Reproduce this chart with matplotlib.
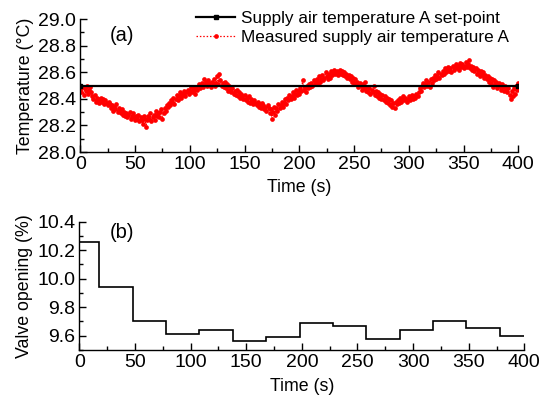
import matplotlib
matplotlib.use("Agg")
import matplotlib.pyplot as plt
import numpy as np
from matplotlib.ticker import MultipleLocator

plt.rcParams['font.family'] = ['Liberation Sans', 'DejaVu Sans']

# ---- data ----
setpoint_value = 28.5
time_setpoint = [0, 400]

measured_temp = [
    28.47, 28.45, 28.49, 28.43, 28.48, 28.46, 28.50, 28.44, 28.47, 28.49,
    28.45, 28.42, 28.40, 28.43, 28.38, 28.41, 28.39, 28.37, 28.40, 28.41,
    28.38, 28.40, 28.36, 28.39, 28.37, 28.35, 28.38, 28.36, 28.33, 28.35,
    28.31, 28.34, 28.32, 28.36, 28.30, 28.33, 28.31, 28.29, 28.32, 28.28,
    28.30, 28.27, 28.29, 28.26, 28.28, 28.30, 28.25, 28.27, 28.29, 28.26,
    28.24, 28.27, 28.25, 28.28, 28.23, 28.26, 28.24, 28.21, 28.27, 28.25,
    28.19, 28.24, 28.27, 28.25, 28.29, 28.23, 28.26, 28.28, 28.24, 28.31,
    28.27, 28.29, 28.26, 28.30, 28.32, 28.25, 28.29, 28.33, 28.31, 28.35,
    28.34, 28.37, 28.35, 28.39, 28.38, 28.41, 28.36, 28.40, 28.43, 28.39,
    28.42, 28.45, 28.41, 28.44, 28.43, 28.46, 28.42, 28.45, 28.47, 28.44,
    28.46, 28.49, 28.45, 28.48, 28.47, 28.44, 28.49, 28.47, 28.51, 28.48,
    28.50, 28.52, 28.49, 28.55, 28.51, 28.53, 28.50, 28.54, 28.52, 28.49,
    28.53, 28.51, 28.55, 28.50, 28.52, 28.57, 28.51, 28.59, 28.54, 28.50,
    28.52, 28.49, 28.53, 28.48, 28.51, 28.46, 28.50, 28.47, 28.45, 28.48,
    28.44, 28.46, 28.43, 28.47, 28.42, 28.45, 28.41, 28.44, 28.42, 28.40,
    28.43, 28.39, 28.41, 28.38, 28.42, 28.37, 28.40, 28.38, 28.36, 28.39,
    28.37, 28.35, 28.38, 28.34, 28.36, 28.33, 28.37, 28.35, 28.32, 28.34,
    28.31, 28.35, 28.33, 28.29, 28.32, 28.25, 28.30, 28.34, 28.28, 28.33,
    28.31, 28.36, 28.33, 28.35, 28.38, 28.34, 28.37, 28.40, 28.36, 28.41,
    28.39, 28.43, 28.40, 28.42, 28.45, 28.41, 28.44, 28.47, 28.43, 28.46,
    28.44, 28.48, 28.46, 28.54, 28.47, 28.49, 28.45, 28.50, 28.48, 28.51,
    28.49, 28.52, 28.50, 28.54, 28.51, 28.53, 28.55, 28.52, 28.57, 28.53,
    28.55, 28.58, 28.54, 28.56, 28.60, 28.57, 28.55, 28.59, 28.56, 28.61,
    28.58, 28.60, 28.62, 28.59, 28.61, 28.58, 28.60, 28.62, 28.59, 28.61,
    28.58, 28.60, 28.57, 28.59, 28.56, 28.58, 28.55, 28.57, 28.53, 28.56,
    28.52, 28.55, 28.51, 28.53, 28.49, 28.52, 28.50, 28.47, 28.51, 28.48,
    28.53, 28.46, 28.49, 28.45, 28.48, 28.44, 28.47, 28.45, 28.50, 28.43,
    28.46, 28.42, 28.45, 28.41, 28.44, 28.40, 28.43, 28.39, 28.42, 28.38,
    28.41, 28.37, 28.40, 28.35, 28.39, 28.34, 28.37, 28.33, 28.38, 28.36,
    28.39, 28.37, 28.41, 28.38, 28.40, 28.42, 28.39, 28.41, 28.38, 28.40,
    28.42, 28.39, 28.41, 28.43, 28.40, 28.42, 28.41, 28.44, 28.42, 28.45,
    28.48, 28.46, 28.50, 28.52, 28.49, 28.51, 28.54, 28.50, 28.53, 28.49,
    28.55, 28.52, 28.56, 28.54, 28.58, 28.55, 28.57, 28.60, 28.56, 28.59,
    28.58, 28.61, 28.59, 28.63, 28.60, 28.62, 28.64, 28.61, 28.63, 28.60,
    28.65, 28.62, 28.64, 28.66, 28.63, 28.65, 28.62, 28.67, 28.64, 28.66,
    28.63, 28.65, 28.68, 28.64, 28.66, 28.69, 28.63, 28.65, 28.62, 28.64,
    28.61, 28.63, 28.59, 28.62, 28.60, 28.57, 28.61, 28.58, 28.60, 28.56,
    28.58, 28.55, 28.57, 28.53, 28.56, 28.52, 28.55, 28.49, 28.54, 28.51,
    28.53, 28.48, 28.52, 28.50, 28.47, 28.51, 28.49, 28.46, 28.50, 28.47,
    28.45, 28.48, 28.43, 28.40, 28.46, 28.42, 28.48, 28.44, 28.50, 28.47,
    28.52,
]
time_measured = list(range(len(measured_temp)))

valve_edges = [0, 17.5, 48, 78, 108, 138, 168, 198, 228, 258, 288, 318, 348, 378, 400]
valve_opening = [10.26, 9.945, 9.70, 9.61, 9.64, 9.56, 9.59, 9.69, 9.665, 9.58,
                 9.64, 9.70, 9.655, 9.60]

label_setpoint = "Supply air temperature A set-point"
label_measured = "Measured supply air temperature A"

# ---- figure ----
fig = plt.figure(figsize=(5.41, 3.96), dpi=100)
ax1 = fig.add_axes([0.1484, 0.616, 0.8096, 0.336])
ax2 = fig.add_axes([0.1466, 0.1162, 0.8226, 0.324])

fs_tick = 14
fs_label = 12.8
fs_leg = 12.3
fs_panel = 14.5

def style(ax):
    for s in ['top', 'right']:
        ax.spines[s].set_visible(False)
    for s in ['left', 'bottom']:
        ax.spines[s].set_linewidth(1.0)
    ax.tick_params(which='major', direction='in', length=5, width=1.0, labelsize=fs_tick, pad=3)
    ax.tick_params(which='minor', direction='in', length=3, width=1.0)
    ax.xaxis.set_major_locator(MultipleLocator(50))
    ax.xaxis.set_minor_locator(MultipleLocator(25))

# top panel
ax1.plot(time_setpoint, [setpoint_value] * len(time_setpoint), color='black', lw=1.6,
         marker='s', markersize=2.2, label=label_setpoint, zorder=3)
ax1.plot(time_measured, measured_temp, color='red', lw=0.9, ls=(0, (1.2, 1.5)), marker='o',
         markersize=3.4, markeredgewidth=0, label=label_measured, zorder=2)
ax1.set_xlim(0, 400)
ax1.set_ylim(28.0, 29.0)
ax1.yaxis.set_major_locator(MultipleLocator(0.2))
ax1.yaxis.set_minor_locator(MultipleLocator(0.1))
ax1.yaxis.set_major_formatter(matplotlib.ticker.FormatStrFormatter('%.1f'))
style(ax1)
ax1.set_xlabel("Time (s)", fontsize=fs_label, labelpad=4)
ax1.set_ylabel("Temperature (°C)", fontsize=fs_label, labelpad=3)
ax1.text(0.068, 0.95, "(a)", transform=ax1.transAxes, fontsize=fs_panel, va='top')
leg = ax1.legend(loc='upper left', bbox_to_anchor=(0.34, 1.003), bbox_transform=fig.transFigure,
                 frameon=False, fontsize=fs_leg, handlelength=2.3, handletextpad=0.35,
                 labelspacing=0.25, borderpad=0.2, markerscale=1.0)

# bottom panel
ax2.stairs(valve_opening, valve_edges, color='black', lw=1.2, baseline=None)
ax2.set_xlim(0, 400)
ax2.set_ylim(9.5, 10.4)
ax2.yaxis.set_major_locator(MultipleLocator(0.2))
ax2.yaxis.set_minor_locator(MultipleLocator(0.1))
ax2.set_yticks([9.6, 9.8, 10.0, 10.2, 10.4])
ax2.yaxis.set_major_formatter(matplotlib.ticker.FormatStrFormatter('%.1f'))
style(ax2)
ax2.set_xlabel("Time (s)", fontsize=fs_label, labelpad=5)
ax2.set_ylabel("Valve opening (%)", fontsize=fs_label, labelpad=3)
ax2.text(0.068, 0.99, "(b)", transform=ax2.transAxes, fontsize=fs_panel, va='top')

fig.savefig("out.png", dpi=100)
